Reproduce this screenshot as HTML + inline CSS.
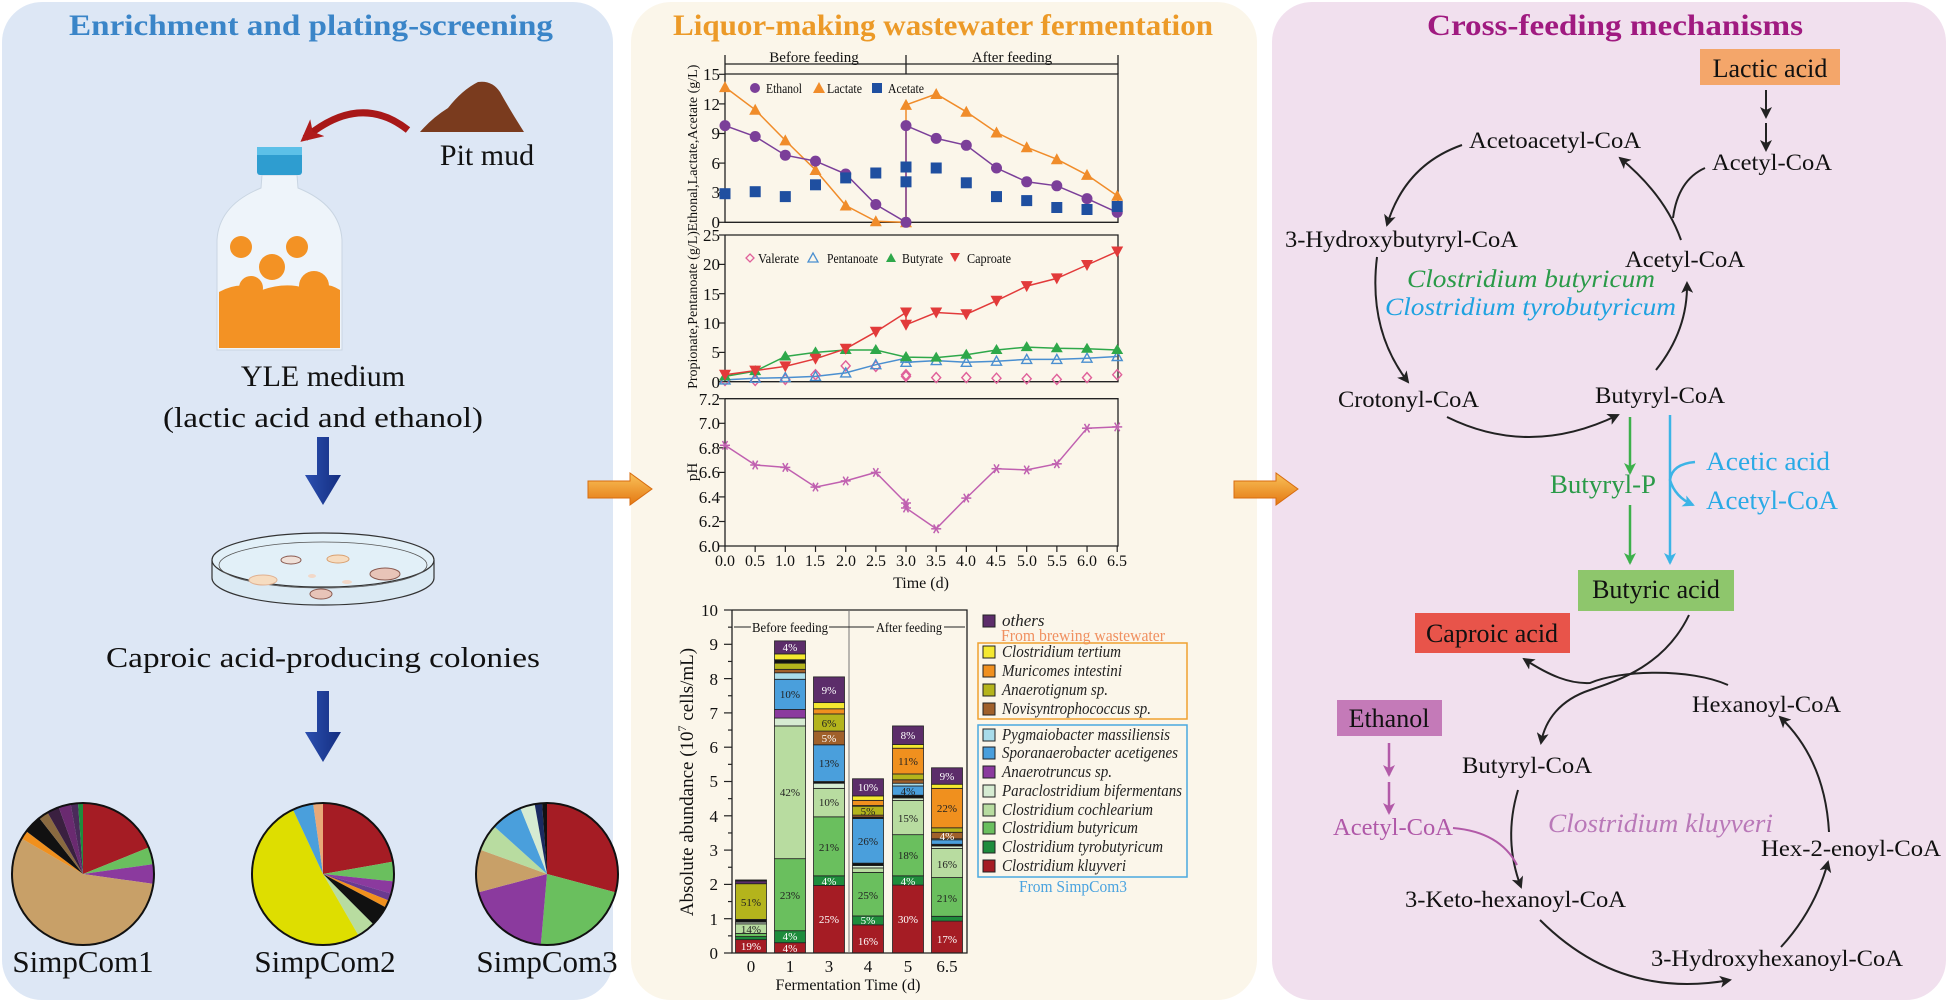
<!DOCTYPE html>
<html><head><meta charset="utf-8"><style>
html,body{margin:0;padding:0;background:#fff;}
svg{display:block;}
text{font-family:"Liberation Serif","DejaVu Serif",serif !important;}
</style></head><body>
<svg id="s" width="1948" height="1008" viewBox="0 0 1948 1008" xmlns="http://www.w3.org/2000/svg" font-family="Liberation Serif, serif">
<defs>
<linearGradient id="og" x1="0" y1="0" x2="0" y2="1"><stop offset="0" stop-color="#f9c25a"/><stop offset="1" stop-color="#e47812"/></linearGradient>
<linearGradient id="bg" x1="0" y1="0" x2="1" y2="0"><stop offset="0" stop-color="#2b4fb0"/><stop offset="1" stop-color="#142e80"/></linearGradient>
<marker id="akb" markerWidth="12" markerHeight="12" refX="10" refY="6" orient="auto" markerUnits="userSpaceOnUse"><path d="M0,0 L12,6 L0,12 L3,6 Z" fill="#222"/></marker>
<marker id="ag" markerWidth="12" markerHeight="12" refX="10" refY="6" orient="auto" markerUnits="userSpaceOnUse"><path d="M0,0 L12,6 L0,12 L3,6 Z" fill="#3db04b"/></marker>
<marker id="ab" markerWidth="12" markerHeight="12" refX="10" refY="6" orient="auto" markerUnits="userSpaceOnUse"><path d="M0,0 L12,6 L0,12 L3,6 Z" fill="#3cb4e6"/></marker>
<marker id="ap" markerWidth="12" markerHeight="12" refX="10" refY="6" orient="auto" markerUnits="userSpaceOnUse"><path d="M0,0 L12,6 L0,12 L3,6 Z" fill="#b25aa8"/></marker>
<marker id="ar" markerWidth="22" markerHeight="22" refX="16" refY="11" orient="auto" markerUnits="userSpaceOnUse"><path d="M0,0 L22,11 L0,22 L6,11 Z" fill="#b01c1c"/></marker>
</defs>
<rect width="1948" height="1008" fill="#fff"/>
<rect x="2" y="2" width="611" height="998" rx="40" fill="#dde7f5"/>
<rect x="631" y="2" width="626" height="998" rx="40" fill="#fbf6ea"/>
<rect x="1272" y="2" width="674" height="998" rx="40" fill="#f1e0ee"/>

<text x="311" y="35" text-anchor="middle" font-size="30" font-weight="bold" fill="#3a85c8" textLength="484" lengthAdjust="spacingAndGlyphs">Enrichment and plating-screening</text>
<text x="943" y="35" text-anchor="middle" font-size="30" font-weight="bold" fill="#ec9a28" textLength="540" lengthAdjust="spacingAndGlyphs">Liquor-making wastewater fermentation</text>
<text x="1615" y="35" text-anchor="middle" font-size="30" font-weight="bold" fill="#a01a80" textLength="376" lengthAdjust="spacingAndGlyphs">Cross-feeding mechanisms</text>

<!-- LEFT PANEL -->
<path d="M420,132 Q432,118 448,108 Q462,90 478,82 Q492,80 500,92 Q510,110 524,132 Z" fill="#7a3b1e"/>
<text x="487" y="165" text-anchor="middle" font-size="30" fill="#111">Pit mud</text>
<path d="M408,130 Q360,92 305,138" fill="none" stroke="#a81818" stroke-width="7" marker-end="url(#ar)"/>
<path d="M262,175 L297,175 L298,188 Q340,205 342,240 L342,350 L217,350 L217,240 Q219,205 261,188 Z" fill="#eef4fa" stroke="#c9d5e2" stroke-width="1"/>
<rect x="257" y="147" width="45" height="28" rx="3" fill="#2e9dd0"/>
<rect x="257" y="147" width="45" height="8" fill="#5cc0e8"/>
<path d="M219,292 Q240,280 262,290 Q285,282 305,288 Q325,280 340,290 L340,348 L219,348 Z" fill="#f39224"/>
<circle cx="241" cy="247" r="11" fill="#f39224"/>
<circle cx="297" cy="247" r="11" fill="#f39224"/>
<circle cx="272" cy="267" r="13" fill="#f39224"/>
<circle cx="251" cy="288" r="12" fill="#f39224"/>
<circle cx="314" cy="286" r="15" fill="#f39224"/>
<text x="323" y="386" text-anchor="middle" font-size="30" fill="#111">YLE medium</text>
<text x="323" y="427" text-anchor="middle" font-size="29" fill="#111" textLength="320" lengthAdjust="spacingAndGlyphs">(lactic acid and ethanol)</text>
<polygon points="317,437 329,437 329,475 341,475 323,505 305,475 317,475" fill="url(#bg)"/>
<path d="M212,560 L212,578 A111,27 0 0 0 434,578 L434,560" fill="#dbeaf4" stroke="#333" stroke-width="1.2"/>
<ellipse cx="323" cy="560" rx="111" ry="27" fill="#e2f0f8" stroke="#333" stroke-width="1.2"/>
<ellipse cx="323" cy="565" rx="104" ry="23" fill="none" stroke="#555" stroke-width="0.8"/>
<ellipse cx="291" cy="560" rx="10" ry="4" fill="#efe0d8" stroke="#8a5a50"/>
<ellipse cx="338" cy="559" rx="11" ry="4" fill="#f6dcc0" stroke="#d9a070"/>
<ellipse cx="263" cy="580" rx="14" ry="5" fill="#f6dcc0" stroke="#e0b090"/>
<ellipse cx="385" cy="574" rx="15" ry="6" fill="#e8c4b8" stroke="#8a5a50"/>
<ellipse cx="321" cy="594" rx="11" ry="5" fill="#e8c4b8" stroke="#8a5a50"/>
<ellipse cx="312" cy="576" rx="4" ry="2" fill="#f2d8c8"/>
<ellipse cx="347" cy="582" rx="5" ry="2" fill="#f2d8c8"/>
<text x="323" y="667" text-anchor="middle" font-size="29" fill="#111" textLength="434" lengthAdjust="spacingAndGlyphs">Caproic acid-producing colonies</text>
<polygon points="317,691 329,691 329,732 341,732 323,762 305,732 317,732" fill="url(#bg)"/>
<g id="pies"></g>
<text x="83" y="972" text-anchor="middle" font-size="31" fill="#111">SimpCom1</text>
<text x="325" y="972" text-anchor="middle" font-size="31" fill="#111">SimpCom2</text>
<text x="547" y="972" text-anchor="middle" font-size="31" fill="#111">SimpCom3</text>

<polygon points="588,481 630,481 630,473 652,489 630,505 630,498 588,498" fill="url(#og)" stroke="#d86c10" stroke-width="1"/>
<polygon points="1234,481 1276,481 1276,473 1298,489 1276,505 1276,498 1234,498" fill="url(#og)" stroke="#d86c10" stroke-width="1"/>

<!-- MIDDLE line charts -->
<g stroke="#222" stroke-width="1.3" fill="none">
<line x1="725" y1="64" x2="1118" y2="64"/>
<line x1="725" y1="55" x2="725" y2="74"/><line x1="906" y1="55" x2="906" y2="74"/><line x1="1118" y1="55" x2="1118" y2="74"/>
<polyline points="725,74 725,222.3 1118,222.3 1118,74 725,74"/>
<polyline points="725,235 725,381.7 1118,381.7 1118,235 725,235"/>
<polyline points="725,398.7 725,546 1118,546 1118,398.7 725,398.7"/>
</g>
<text x="814" y="62" text-anchor="middle" font-size="15" fill="#111">Before feeding</text>
<text x="1012" y="62" text-anchor="middle" font-size="15" fill="#111">After feeding</text>
<g id="ticks" stroke="#222" stroke-width="1.2"></g>
<g font-size="17" fill="#111" text-anchor="end">
<text x="720" y="228">0</text><text x="720" y="198">3</text><text x="720" y="169">6</text><text x="720" y="139">9</text><text x="720" y="110">12</text><text x="720" y="80">15</text>
<text x="720" y="388">0</text><text x="720" y="358">5</text><text x="720" y="329">10</text><text x="720" y="300">15</text><text x="720" y="270">20</text><text x="720" y="241">25</text>
<text x="720" y="552">6.0</text><text x="720" y="527">6.2</text><text x="720" y="503">6.4</text><text x="720" y="478">6.6</text><text x="720" y="454">6.8</text><text x="720" y="429">7.0</text><text x="720" y="405">7.2</text>
</g>
<g font-size="16" fill="#111" text-anchor="middle">
<text x="725" y="566">0.0</text><text x="755" y="566">0.5</text><text x="785" y="566">1.0</text><text x="815" y="566">1.5</text><text x="846" y="566">2.0</text><text x="876" y="566">2.5</text><text x="906" y="566">3.0</text><text x="936" y="566">3.5</text><text x="966" y="566">4.0</text><text x="996" y="566">4.5</text><text x="1027" y="566">5.0</text><text x="1057" y="566">5.5</text><text x="1087" y="566">6.0</text><text x="1117" y="566">6.5</text>
<text x="921" y="588">Time (d)</text>
</g>
<text transform="translate(697,148) rotate(-90)" text-anchor="middle" font-size="14" fill="#111">Ethonal,Lactate,Acetate (g/L)</text>
<text transform="translate(697,310) rotate(-90)" text-anchor="middle" font-size="14" fill="#111">Propionate,Pentanoate (g/L)</text>
<text transform="translate(697,472) rotate(-90)" text-anchor="middle" font-size="15" fill="#111">pH</text>
<g id="lines"></g>
<g font-size="14" fill="#111">
<circle cx="755" cy="88" r="5" fill="#7b3f99"/><text x="766" y="93" textLength="36" lengthAdjust="spacingAndGlyphs">Ethanol</text>
<polygon points="819,82 825,93 813,93" fill="#f08c2a"/><text x="827" y="93" textLength="35" lengthAdjust="spacingAndGlyphs">Lactate</text>
<rect x="872" y="83" width="10" height="10" fill="#1f4fa0"/><text x="888" y="93" textLength="36" lengthAdjust="spacingAndGlyphs">Acetate</text>
<polygon points="750,254 754,258 750,262 746,258" fill="none" stroke="#e0609a" stroke-width="1.3"/><text x="758" y="263" textLength="41" lengthAdjust="spacingAndGlyphs">Valerate</text>
<polygon points="813,253 818,262 808,262" fill="none" stroke="#4a8fd0" stroke-width="1.3"/><text x="827" y="263" textLength="51" lengthAdjust="spacingAndGlyphs">Pentanoate</text>
<polygon points="891,253 896,262 886,262" fill="#2ea84a"/><text x="902" y="263" textLength="41" lengthAdjust="spacingAndGlyphs">Butyrate</text>
<polygon points="950,253 960,253 955,262" fill="#e23a3a"/><text x="967" y="263" textLength="44" lengthAdjust="spacingAndGlyphs">Caproate</text>
</g>

<!-- BAR CHART -->
<g id="bars"></g>
<polyline points="732,610 732,953 967,953 967,610 732,610" stroke="#222" stroke-width="1.3" fill="none"/>
<line x1="849" y1="610" x2="849" y2="953" stroke="#777" stroke-width="1"/>
<line x1="734" y1="627" x2="965" y2="627" stroke="#222" stroke-width="1"/>
<rect x="751" y="618" width="78" height="16" fill="#fbf6ea"/>
<rect x="874" y="618" width="70" height="16" fill="#fbf6ea"/>
<text x="790" y="632" text-anchor="middle" font-size="14" fill="#111" textLength="76" lengthAdjust="spacingAndGlyphs">Before feeding</text>
<text x="909" y="632" text-anchor="middle" font-size="14" fill="#111" textLength="66" lengthAdjust="spacingAndGlyphs">After feeding</text>
<g id="bticks" stroke="#222" stroke-width="1.2"></g>
<g font-size="17" fill="#111" text-anchor="end">
<text x="718" y="959">0</text><text x="718" y="925">1</text><text x="718" y="890">2</text><text x="718" y="856">3</text><text x="718" y="822">4</text><text x="718" y="787">5</text><text x="718" y="753">6</text><text x="718" y="719">7</text><text x="718" y="685">8</text><text x="718" y="650">9</text><text x="718" y="616">10</text>
</g>
<g font-size="17" fill="#111" text-anchor="middle">
<text x="751" y="972">0</text><text x="790" y="972">1</text><text x="829" y="972">3</text><text x="868" y="972">4</text><text x="908" y="972">5</text><text x="947" y="972">6.5</text>
<text x="848" y="990" font-size="16">Fermentation Time (d)</text>
</g>
<text transform="translate(693,782) rotate(-90)" text-anchor="middle" font-size="19" fill="#111">Absolute abundance (10<tspan dy="-7" font-size="12">7</tspan><tspan dy="7"> cells/mL)</tspan></text>
<g font-size="11" text-anchor="middle">
<g fill="#fff"><text x="751" y="950">19%</text><text x="790" y="952">4%</text><text x="790" y="940">4%</text><text x="790" y="651">4%</text>
<text x="829" y="923">25%</text><text x="829" y="885">4%</text><text x="829" y="742">5%</text><text x="829" y="694">9%</text>
<text x="868" y="945">16%</text><text x="868" y="924">5%</text><text x="868" y="791">10%</text>
<text x="908" y="923">30%</text><text x="908" y="885">4%</text><text x="908" y="739">8%</text>
<text x="947" y="943">17%</text><text x="947" y="840">4%</text><text x="947" y="780">9%</text></g>
<g fill="#222"><text x="751" y="933">14%</text><text x="751" y="906">51%</text>
<text x="790" y="899">23%</text><text x="790" y="796">42%</text><text x="790" y="698">10%</text>
<text x="829" y="851">21%</text><text x="829" y="806">10%</text><text x="829" y="767">13%</text><text x="829" y="727">6%</text>
<text x="868" y="899">25%</text><text x="868" y="845">26%</text><text x="868" y="815">5%</text>
<text x="908" y="859">18%</text><text x="908" y="822">15%</text><text x="908" y="795">4%</text><text x="908" y="765">11%</text>
<text x="947" y="902">21%</text><text x="947" y="868">16%</text><text x="947" y="812">22%</text></g>
</g>
<rect x="978" y="643" width="209" height="76" fill="none" stroke="#f0a030" stroke-width="1.5"/>
<rect x="978" y="725" width="209" height="152" fill="none" stroke="#4aa8e0" stroke-width="1.5"/>
<g stroke="#222" stroke-width="1">
<rect x="983" y="615" width="12" height="12" fill="#5c2d6a"/>
<rect x="983" y="646" width="12" height="12" fill="#f4e830"/>
<rect x="983" y="665" width="12" height="12" fill="#f0901e"/>
<rect x="983" y="684" width="12" height="12" fill="#b4b41c"/>
<rect x="983" y="703" width="12" height="12" fill="#a0602a"/>
<rect x="983" y="729" width="12" height="12" fill="#a8dcea"/>
<rect x="983" y="747" width="12" height="12" fill="#4a9fdc"/>
<rect x="983" y="766" width="12" height="12" fill="#8b3a9e"/>
<rect x="983" y="785" width="12" height="12" fill="#d6ebd2"/>
<rect x="983" y="804" width="12" height="12" fill="#b8dca0"/>
<rect x="983" y="822" width="12" height="12" fill="#6abf5e"/>
<rect x="983" y="841" width="12" height="12" fill="#1e8c3c"/>
<rect x="983" y="860" width="12" height="12" fill="#a51c24"/>
</g>
<g font-size="17" font-style="italic" fill="#222">
<text x="1002" y="626">others</text>
<text x="1002" y="657" textLength="119" lengthAdjust="spacingAndGlyphs">Clostridium tertium</text>
<text x="1002" y="676" textLength="120" lengthAdjust="spacingAndGlyphs">Muricomes intestini</text>
<text x="1002" y="695" textLength="106" lengthAdjust="spacingAndGlyphs">Anaerotignum sp.</text>
<text x="1002" y="714" textLength="149" lengthAdjust="spacingAndGlyphs">Novisyntrophococcus sp.</text>
<text x="1002" y="740" textLength="168" lengthAdjust="spacingAndGlyphs">Pygmaiobacter massiliensis</text>
<text x="1002" y="758" textLength="176" lengthAdjust="spacingAndGlyphs">Sporanaerobacter acetigenes</text>
<text x="1002" y="777" textLength="110" lengthAdjust="spacingAndGlyphs">Anaerotruncus sp.</text>
<text x="1002" y="796" textLength="180" lengthAdjust="spacingAndGlyphs">Paraclostridium bifermentans</text>
<text x="1002" y="815" textLength="151" lengthAdjust="spacingAndGlyphs">Clostridium cochlearium</text>
<text x="1002" y="833" textLength="136" lengthAdjust="spacingAndGlyphs">Clostridium butyricum</text>
<text x="1002" y="852" textLength="161" lengthAdjust="spacingAndGlyphs">Clostridium tyrobutyricum</text>
<text x="1002" y="871" textLength="124" lengthAdjust="spacingAndGlyphs">Clostridium kluyveri</text>
</g>
<text x="1083" y="641" text-anchor="middle" font-size="17" fill="#f09060" textLength="164" lengthAdjust="spacingAndGlyphs">From brewing wastewater</text>
<text x="1073" y="892" text-anchor="middle" font-size="17" fill="#4aa3df" textLength="108" lengthAdjust="spacingAndGlyphs">From SimpCom3</text>

<!-- RIGHT PANEL -->
<rect x="1700" y="49" width="140" height="36" fill="#f4a66a"/>
<text x="1770" y="77" text-anchor="middle" font-size="26" fill="#111">Lactic acid</text>
<rect x="1578" y="570" width="156" height="41" fill="#8ec66c"/>
<text x="1656" y="598" text-anchor="middle" font-size="26" fill="#111">Butyric acid</text>
<rect x="1415" y="613" width="155" height="40" fill="#e8544a"/>
<text x="1492" y="642" text-anchor="middle" font-size="26" fill="#111">Caproic acid</text>
<rect x="1337" y="700" width="105" height="36" fill="#c47ab8"/>
<text x="1389" y="727" text-anchor="middle" font-size="26" fill="#111">Ethanol</text>
<g font-size="23" fill="#111">
<text x="1469" y="148" textLength="172" lengthAdjust="spacingAndGlyphs">Acetoacetyl-CoA</text>
<text x="1285" y="247" textLength="233" lengthAdjust="spacingAndGlyphs">3-Hydroxybutyryl-CoA</text>
<text x="1338" y="407" textLength="141" lengthAdjust="spacingAndGlyphs">Crotonyl-CoA</text>
<text x="1595" y="403" textLength="130" lengthAdjust="spacingAndGlyphs">Butyryl-CoA</text>
<text x="1712" y="170" textLength="120" lengthAdjust="spacingAndGlyphs">Acetyl-CoA</text>
<text x="1625" y="267" textLength="120" lengthAdjust="spacingAndGlyphs">Acetyl-CoA</text>
<text x="1692" y="712" textLength="149" lengthAdjust="spacingAndGlyphs">Hexanoyl-CoA</text>
<text x="1761" y="856" textLength="180" lengthAdjust="spacingAndGlyphs">Hex-2-enoyl-CoA</text>
<text x="1651" y="966" textLength="252" lengthAdjust="spacingAndGlyphs">3-Hydroxyhexanoyl-CoA</text>
<text x="1405" y="907" textLength="221" lengthAdjust="spacingAndGlyphs">3-Keto-hexanoyl-CoA</text>
<text x="1462" y="773" textLength="130" lengthAdjust="spacingAndGlyphs">Butyryl-CoA</text>
</g>
<text x="1407" y="287" font-size="25" font-style="italic" fill="#2a9a48" textLength="248" lengthAdjust="spacingAndGlyphs">Clostridium butyricum</text>
<text x="1385" y="315" font-size="25" font-style="italic" fill="#1fa2e0" textLength="291" lengthAdjust="spacingAndGlyphs">Clostridium tyrobutyricum</text>
<text x="1550" y="493" font-size="26" fill="#2a9a48" textLength="106" lengthAdjust="spacingAndGlyphs">Butyryl-P</text>
<text x="1706" y="470" font-size="26" fill="#2aaae6" textLength="124" lengthAdjust="spacingAndGlyphs">Acetic acid</text>
<text x="1706" y="509" font-size="26" fill="#2aaae6" textLength="132" lengthAdjust="spacingAndGlyphs">Acetyl-CoA</text>
<text x="1333" y="835" font-size="24" fill="#b058a8" textLength="120" lengthAdjust="spacingAndGlyphs">Acetyl-CoA</text>
<text x="1548" y="832" font-size="26" font-style="italic" fill="#b978b8" textLength="225" lengthAdjust="spacingAndGlyphs">Clostridium kluyveri</text>
<g fill="none" stroke="#222" stroke-width="2">
<path d="M1462,145 Q1405,165 1387,225" marker-end="url(#akb)"/>
<path d="M1377,257 Q1368,330 1408,382" marker-end="url(#akb)"/>
<path d="M1447,417 Q1530,458 1618,415" marker-end="url(#akb)"/>
<path d="M1656,370 Q1688,330 1687,283" marker-end="url(#akb)"/>
<path d="M1681,240 Q1665,195 1620,158" marker-end="url(#akb)"/>
<path d="M1705,168 Q1678,180 1673,218"/>
<path d="M1766,90 L1766,117" marker-end="url(#akb)"/>
<path d="M1766,123 L1766,150" marker-end="url(#akb)"/>
<path d="M1689,615 C1665,665 1620,680 1590,690 C1560,700 1545,720 1541,743" marker-end="url(#akb)"/>
<path d="M1728,685 C1690,668 1620,670 1590,683 C1570,684 1550,676 1524,659" marker-end="url(#akb)"/>
<path d="M1518,790 Q1503,840 1521,887" marker-end="url(#akb)"/>
<path d="M1540,920 Q1620,1000 1730,980" marker-end="url(#akb)"/>
<path d="M1781,947 Q1815,910 1828,862" marker-end="url(#akb)"/>
<path d="M1829,832 Q1825,760 1780,717" marker-end="url(#akb)"/>
</g>
<g fill="none" stroke-width="2.5">
<path d="M1630,417 L1630,473" stroke="#3db04b" marker-end="url(#ag)"/>
<path d="M1630,505 L1630,563" stroke="#3db04b" marker-end="url(#ag)"/>
<path d="M1670,415 L1670,563" stroke="#3cb4e6" marker-end="url(#ab)"/>
<path d="M1695,462 Q1672,464 1670,480 Q1675,497 1693,505" stroke="#3cb4e6" marker-end="url(#ab)"/>
<path d="M1389,743 L1389,775" stroke="#b25aa8" marker-end="url(#ap)"/>
<path d="M1389,782 L1389,813" stroke="#b25aa8" marker-end="url(#ap)"/>
<path d="M1453,828 Q1500,832 1517,865" stroke="#b25aa8" stroke-width="2"/>
</g>
</svg>
<script>
(function(){
var NS="http://www.w3.org/2000/svg";
function el(p,t,a){var e=document.createElementNS(NS,t);for(var k in a)e.setAttribute(k,a[k]);p.appendChild(e);return e;}
var pies=document.getElementById('pies');
function pie(cx,cy,r,sl){var a0=0;sl.forEach(function(s){var a1=s[1];var x0=cx+r*Math.sin(a0*Math.PI/180),y0=cy-r*Math.cos(a0*Math.PI/180),x1=cx+r*Math.sin(a1*Math.PI/180),y1=cy-r*Math.cos(a1*Math.PI/180);
el(pies,'path',{d:'M'+cx+','+cy+' L'+x0+','+y0+' A'+r+','+r+' 0 '+((a1-a0)>180?1:0)+' 1 '+x1+','+y1+' Z',fill:s[0]});a0=a1;});
el(pies,'circle',{cx:cx,cy:cy,r:r,fill:'none',stroke:'#111','stroke-width':2});}
pie(83,874,71,[['#a51c24',68],['#6abf5e',82],['#8b3a9e',98],['#c8a068',300],['#f0901e',307],['#111',322],['#8a6a40',330],['#3a2040',340],['#6a2a70',350],['#4a2a5a',356],['#1e8c3c',360]]);
pie(323,874,71,[['#a51c24',80],['#6abf5e',96],['#8b3a9e',106],['#6a3a90',112],['#f0901e',118],['#111',135],['#b8dca0',150],['#dede00',335],['#4a9fdc',352],['#e8a878',360]]);
pie(547,874,71,[['#a51c24',105],['#6abf5e',185],['#8b3a9e',255],['#c8a068',290],['#b8dca0',312],['#4a9fdc',338],['#d6ebd2',350],['#1a2a60',356],['#111',360]]);
var tk=document.getElementById('ticks');
function ht(x,y,l){el(tk,'line',{x1:x-l,y1:y,x2:x,y2:y});}
[222.3,192.7,163.1,133.5,103.9,74.3].forEach(function(y){ht(725,y,6)});
[381.7,352.4,323,293.7,264.4,235].forEach(function(y){ht(725,y,6)});
[546,521.5,496.9,472.4,447.8,423.3,398.7].forEach(function(y){ht(725,y,6)});
for(var i=0;i<14;i++){var x=725+i*30.17;el(tk,'line',{x1:x,y1:546,x2:x,y2:552});}
var bt=document.getElementById('bticks');
for(var i=0;i<=20;i++){var y=953-i*17.15;el(bt,'line',{x1:732-(i%2?4:8),y1:y,x2:732,y2:y});}
var L=document.getElementById('lines');
var T=[725,755.2,785.3,815.5,845.7,875.8,906,906,936.2,966.3,996.5,1026.7,1056.8,1087,1117.2];
function pl(ys,c,w){var p=[];ys.forEach(function(y,i){p.push(T[i]+','+y)});el(L,'polyline',{points:p.join(' '),fill:'none',stroke:c,'stroke-width':w||1.5});}
var eth=[125.6,136.5,155.2,161.1,174,204.5,222.3,125.6,138.4,145.3,168,181.8,185.8,198.6,212.4];
var lac=[87.1,109.8,140.4,170,205.5,221.3,222.3,104.9,94,111.8,132.5,147.3,159.2,174.9,195.7];
var ace=[193.7,191.7,196.6,184.8,177.9,173,181.8,167,168,182.8,196.6,200.6,207.5,209.5,206.5];
pl(lac,'#f08c2a');pl(eth,'#7b3f99');
lac.forEach(function(y,i){var x=T[i];el(L,'polygon',{points:(x)+','+(y-6)+' '+(x+6)+','+(y+5)+' '+(x-6)+','+(y+5),fill:'#f08c2a'});});
eth.forEach(function(y,i){el(L,'circle',{cx:T[i],cy:y,r:5.5,fill:'#7b3f99'});});
ace.forEach(function(y,i){el(L,'rect',{x:T[i]-5.5,y:y-5.5,width:11,height:11,fill:'#1f4fa0'});});
var cap=[374.7,370.6,366.4,358.8,348.8,331.8,312.5,324.8,312.5,314.2,300.7,286.1,278.4,265,251.5];
var but=[376.4,371.1,356.5,352.4,350,350,357.1,357.1,357.6,354.7,350,347.1,348.3,348.8,350];
var pen=[379.9,378.2,377.6,376.4,372.9,364.7,358.2,362.3,360.6,362.3,361.2,359.4,359.4,358.2,356.5];
var val=[380.5,380.5,379.4,374.7,365.9,366.4,374.7,376.4,377.6,377.6,378.2,378.8,379.4,377.6,374.7];
pl(pen,'#4a8fd0');pl(but,'#2ea84a');pl(cap,'#e23a3a');
val.forEach(function(y,i){var x=T[i];el(L,'polygon',{points:x+','+(y-5)+' '+(x+4.5)+','+y+' '+x+','+(y+5)+' '+(x-4.5)+','+y,fill:'none',stroke:'#e0609a','stroke-width':1.4});});
pen.forEach(function(y,i){var x=T[i];el(L,'polygon',{points:x+','+(y-5)+' '+(x+5)+','+(y+4)+' '+(x-5)+','+(y+4),fill:'none',stroke:'#4a8fd0','stroke-width':1.4});});
but.forEach(function(y,i){var x=T[i];el(L,'polygon',{points:x+','+(y-6)+' '+(x+6)+','+(y+4)+' '+(x-6)+','+(y+4),fill:'#2ea84a'});});
cap.forEach(function(y,i){var x=T[i];el(L,'polygon',{points:(x-6)+','+(y-5)+' '+(x+6)+','+(y-5)+' '+x+','+(y+6),fill:'#e23a3a'});});
var ph=[445.3,465,467.4,487.1,480.9,472.4,503,508,528.8,498.1,468.7,469.9,463.8,428.2,426.9];
pl(ph,'#c060b0');
ph.forEach(function(y,i){var x=T[i];for(var a=0;a<3;a++){var an=a*Math.PI/3;el(L,'line',{x1:x-5*Math.cos(an),y1:y-5*Math.sin(an),x2:x+5*Math.cos(an),y2:y+5*Math.sin(an),stroke:'#c060b0','stroke-width':1.5});}});
var B=document.getElementById('bars');
var C={K:'#a51c24',T:'#1e8c3c',Bu:'#6abf5e',C:'#b8dca0',P:'#d6ebd2',A:'#8b3a9e',S:'#4a9fdc',Y:'#a8dcea',N:'#a0602a',G:'#b4b41c',M:'#f0901e',E:'#f4e830',O:'#5c2d6a',X:'#111'};
var bars=[[751,[['K',0,.39],['T',.39,.48],['Bu',.48,.57],['C',.57,.85],['P',.85,.9],['X',.9,.98],['G',.98,2.02],['O',2.02,2.1],['X',2.1,2.13]]],
[790,[['K',0,.3],['T',.3,.65],['Bu',.65,2.75],['C',2.75,6.62],['P',6.62,6.85],['A',6.85,7.1],['S',7.1,7.98],['Y',7.98,8.17],['N',8.17,8.27],['G',8.27,8.45],['X',8.45,8.55],['E',8.55,8.72],['O',8.72,9.1]]],
[829,[['K',0,1.97],['T',1.97,2.25],['Bu',2.25,3.97],['C',3.97,4.8],['P',4.8,4.95],['X',4.95,5],['S',5,6.07],['N',6.07,6.47],['G',6.47,6.97],['M',6.97,7.12],['E',7.12,7.3],['O',7.3,8.05]]],
[868,[['K',0,.82],['T',.82,1.08],['Bu',1.08,2.35],['C',2.35,2.48],['P',2.48,2.55],['X',2.55,2.62],['S',2.62,3.92],['X',3.92,3.96],['N',3.96,4.02],['G',4.02,4.28],['X',4.28,4.3],['M',4.3,4.45],['E',4.45,4.58],['O',4.58,5.08]]],
[908,[['K',0,1.98],['T',1.98,2.25],['Bu',2.25,3.45],['C',3.45,4.45],['P',4.45,4.52],['X',4.52,4.6],['S',4.6,4.87],['Y',4.87,4.95],['N',4.95,5.05],['G',5.05,5.22],['M',5.22,5.97],['E',5.97,6.08],['O',6.08,6.62]]],
[947,[['K',0,.93],['T',.93,1.07],['Bu',1.07,2.2],['C',2.2,3.05],['P',3.05,3.12],['X',3.12,3.17],['S',3.17,3.3],['Y',3.3,3.33],['N',3.33,3.52],['G',3.52,3.65],['M',3.65,4.8],['E',4.8,4.92],['O',4.92,5.4]]]];
bars.forEach(function(b){b[1].forEach(function(s){var y1=953-s[2]*34.3,y0=953-s[1]*34.3;el(B,'rect',{x:b[0]-15.5,y:y1,width:31,height:y0-y1,fill:C[s[0]],stroke:'#222','stroke-width':0.8});});});
})();
</script>
</body></html>
